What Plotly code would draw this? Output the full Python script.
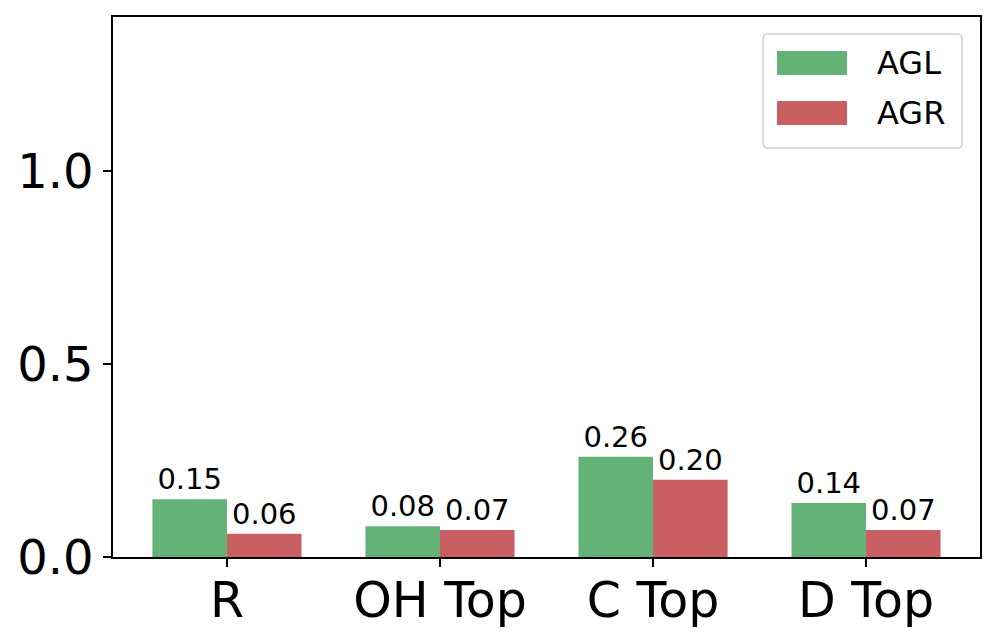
import plotly.graph_objects as go

categories = ["R", "OH Top", "C Top", "D Top"]
agl = [0.15, 0.08, 0.26, 0.14]
agr = [0.06, 0.07, 0.20, 0.07]
series_names = ["AGL", "AGR"]
y_ticks = [0.0, 0.5, 1.0]
y_tick_labels = ["0.0", "0.5", "1.0"]

GREEN = "#65B278"
RED = "#C95F62"
FONT = "DejaVu Sans"

# page has an 8px body margin; size figure so it fits the 997x641 window
OFF = 8
W, H = 997 - 2 * OFF, 641 - 2 * OFF
# target plot area in window pixels
L, R, T, B = 113, 980, 17, 557

positions = list(range(len(categories)))

fig = go.Figure()
for name, vals, col in [(series_names[0], agl, GREEN), (series_names[1], agr, RED)]:
    fig.add_trace(go.Bar(
        x=positions, y=vals, name=name, marker=dict(color=col, line=dict(width=0)),
        text=[f"{v:.2f}" for v in vals], textposition="outside",
        textfont=dict(family=FONT, size=29, color="black"),
        constraintext="none", cliponaxis=False, showlegend=False,
    ))

fig.update_layout(
    width=W, height=H,
    margin=dict(l=L - OFF, r=(W + OFF) - R, t=T - OFF, b=(H + OFF) - B, pad=0),
    paper_bgcolor="white", plot_bgcolor="white",
    barmode="group", bargap=0.3, bargroupgap=0,
    font=dict(family=FONT, color="black"),
    showlegend=False,
)
fig.update_xaxes(
    range=[-0.535, 3.535], tickvals=positions, ticktext=categories,
    tickfont=dict(size=49, family=FONT), ticks="outside", ticklen=8, tickwidth=1.5,
    tickcolor="black", showline=True, linecolor="black", linewidth=1.5, mirror=True,
    showgrid=False, zeroline=False, automargin=False, ticklabelstandoff=-9,
)
fig.update_yaxes(
    range=[0, 1.4], tickvals=y_ticks, ticktext=y_tick_labels,
    tickfont=dict(size=48, family=FONT), ticks="outside", ticklen=8, tickwidth=1.5,
    tickcolor="black", showline=True, linecolor="black", linewidth=1.5, mirror=True,
    showgrid=False, zeroline=False, automargin=False,
)

def px(x):
    return (x - L) / (R - L)

def py(y):
    return (B - y) / (B - T)

# legend box (rounded)
x0, x1, y0, y1, r = 763, 962, 34, 148, 5
path = (f"M {px(x0+r)},{py(y0)} L {px(x1-r)},{py(y0)} Q {px(x1)},{py(y0)} {px(x1)},{py(y0+r)} "
        f"L {px(x1)},{py(y1-r)} Q {px(x1)},{py(y1)} {px(x1-r)},{py(y1)} "
        f"L {px(x0+r)},{py(y1)} Q {px(x0)},{py(y1)} {px(x0)},{py(y1-r)} "
        f"L {px(x0)},{py(y0+r)} Q {px(x0)},{py(y0)} {px(x0+r)},{py(y0)} Z")
fig.add_shape(type="path", xref="paper", yref="paper", path=path,
              fillcolor="rgba(255,255,255,0.8)", line=dict(color="#D0D0D0", width=1.5))
for (name, col, yc) in [(series_names[0], GREEN, 63), (series_names[1], RED, 113)]:
    fig.add_shape(type="rect", xref="paper", yref="paper",
                  x0=px(777), x1=px(847), y0=py(yc - 12), y1=py(yc + 12),
                  fillcolor=col, line=dict(width=0))
    fig.add_annotation(xref="paper", yref="paper", x=px(875), y=py(yc),
                       text=name, showarrow=False, xanchor="left", yanchor="middle",
                       font=dict(family=FONT, size=32, color="black"))

fig.write_html("out.html")
